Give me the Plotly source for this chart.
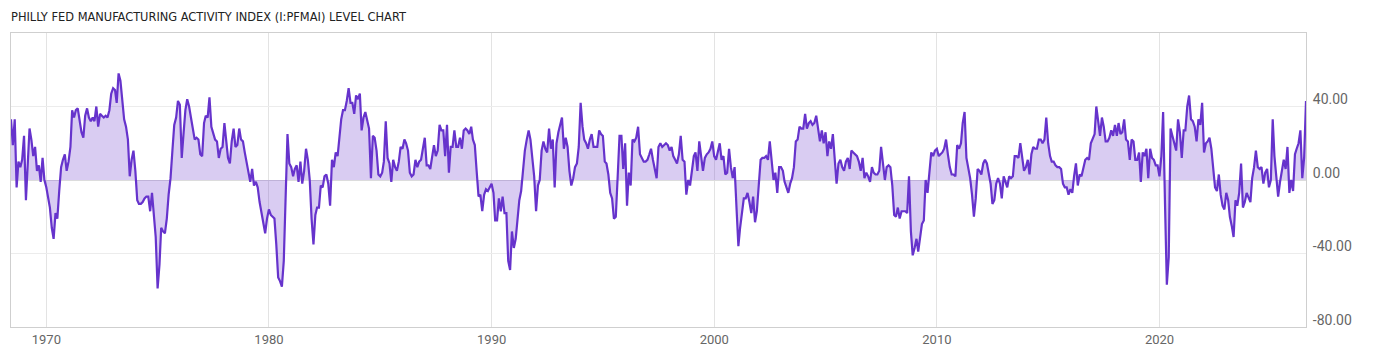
import pandas as pd
import plotly.graph_objects as go

# Monthly readings (values at month-end), May 1968 .. Jul 2026
v1968 = [33, 19, 33, -4, 10, 7, 11, 24]
v1969 = [-11, 12, 28, 22, 13, 18, 5, 8, -1, 12, 0, -4]
v1970 = [-9, -15, -26, -32, -18, -21, -6, 7, 11, 14, 5, 10]
v1971 = [18, 38, 34, 38, 39, 33, 26, 23, 35, 39, 34, 32]
v1972 = [34, 32, 40, 29, 36, 35, 34, 35, 34, 38, 47, 50]
v1973 = [49, 42, 58, 54, 42, 33, 29, 22, 2, 11, 16, 5]
v1974 = [-11, -13, -13, -12, -10, -9, -9, -17, -7, -22, -31, -59]
v1975 = [-46, -26, -28, -29, -21, -8, 1, 16, 30, 34, 43, 41]
v1976 = [12, 25, 38, 44, 40, 34, 29, 22, 23, 22, 14, 13]
v1977 = [31, 35, 34, 45, 29, 26, 22, 21, 12, 17, 18, 31]
v1978 = [21, 12, 9, 21, 28, 18, 19, 28, 22, 21, 15, 9]
v1979 = [3, -1, 6, -3, -1, -4, -12, -18, -24, -29, -21, -16]
v1980 = [-19, -20, -21, -35, -53, -55, -58, -44, -4, 25, 9, 7]
v1981 = [2, 6, 8, -1, 10, -2, 5, 17, 11, 0, -21, -35]
v1982 = [-19, -15, -15, -3, -4, 2, 3, -2, -14, 11, 7, 15]
v1983 = [13, 23, 33, 38, 38, 43, 50, 42, 42, 36, 46, 44]
v1984 = [47, 27, 34, 37, 33, 28, 1, 24, 23, 16, 3, 2]
v1985 = [4, 10, 32, 12, 9, -1, 11, 7, 5, 10, 18, 17]
v1986 = [22, 20, 16, 4, 2, 3, 11, 7, 10, 11, 17, 23]
v1987 = [8, 8, 6, 14, 19, 13, 16, 30, 27, 27, 13, 30]
v1988 = [4, 18, 18, 27, 18, 18, 23, 17, 27, 28, 27, 25]
v1989 = [29, 22, 19, 5, -9, -8, -17, -8, -5, -6, -4, -2]
v1990 = [-7, -22, -22, -10, -17, -9, -18, -18, -44, -49, -28, -37]
v1991 = [-32, -21, -11, -6, 7, 16, 22, 27, 22, 11, 2, -17]
v1992 = [-3, 0, 16, 21, 17, 15, 28, 17, 22, -4, 20, 26]
v1993 = [31, 34, 17, 23, 18, 5, -3, 1, 7, 9, 18, 42]
v1994 = [29, 22, 20, 17, 22, 25, 18, 18, 18, 27, 25, 24]
v1995 = [10, 9, 3, -7, -10, -21, -20, 2, 24, 24, 6, 20]
v1996 = [-14, 4, -3, 22, 21, 23, 29, 14, 12, 10, 10, 11]
v1997 = [14, 17, 11, 5, 1, 18, 20, 18, 19, 20, 19, 16]
v1998 = [18, 13, 11, 9, 14, 24, 11, 10, -8, 0, -3, 5]
v1999 = [13, 15, 5, 21, 13, 5, 12, 14, 15, 17, 21, 13]
v2000 = [11, 15, 20, 11, 13, 3, 4, 17, 7, 1, 7, -15]
v2001 = [-36, -26, -18, -10, -10, -7, -12, -18, -9, -23, -17, -4]
v2002 = [11, 12, 12, 13, 11, 21, 10, 0, 4, -7, 7, 7]
v2003 = [5, -1, -4, -7, -2, 1, 7, 21, 22, 29, 28, 28]
v2004 = [36, 28, 31, 32, 30, 31, 35, 29, 21, 27, 20, 26]
v2005 = [13, 21, 17, 25, 10, -2, 9, 11, 7, 5, 10, 12]
v2006 = [6, 16, 15, 14, 13, 10, 5, 12, 1, 4, 2, -1]
v2007 = [7, 4, 3, 3, 5, 18, 7, 0, 7, 8, 7, -3]
v2008 = [-19, -20, -15, -21, -17, -17, -17, -18, 2, -28, -41, -37]
v2009 = [-32, -39, -32, -24, -22, 0, -7, 3, 15, 13, 16, 17]
v2010 = [13, 14, 15, 17, 22, 14, 7, 3, 3, 2, 19, 17]
v2011 = [20, 31, 37, 12, 7, 1, -8, -20, -10, 6, 5, 3]
v2012 = [9, 11, 9, 4, -2, -13, -11, -2, 1, -2, -10, 2]
v2013 = [-2, -4, 2, 1, 2, 13, 13, 12, 20, 12, 5, 7]
v2014 = [11, 3, 14, 18, 17, 17, 22, 22, 20, 22, 34, 20]
v2015 = [13, 10, 10, 8, 7, 7, 6, -2, -4, -4, -8, -5]
v2016 = [-7, 2, 9, -3, 3, 2, 6, 11, 12, 11, 20, 23]
v2017 = [25, 40, 33, 24, 34, 29, 21, 21, 23, 27, 24, 30]
v2018 = [24, 31, 25, 26, 33, 22, 21, 11, 22, 21, 11, 11]
v2019 = [15, -1, 15, 13, 17, 1, 17, 12, 11, 8, 8, 2]
v2020 = [13, 37, -13, -57, -42, 28, 24, 19, 16, 33, 26, 12]
v2021 = [27, 27, 40, 46, 33, 32, 29, 21, 33, 30, 42, 15]
v2022 = [20, 21, 23, 17, 5, -4, -6, 3, -8, -14, -16, -7]
v2023 = [-11, -20, -25, -31, -11, -14, -7, 9, -15, -12, -7, -10]
v2024 = [-12, 1, 7, 16, 7, 6, 7, -2, 4, 6, -4, 0]
v2025 = [33, 13, 2, -9, -1, 4, 11, 6, 18, -7, 0, -6]
v2026 = [14, 17, 20, 27, 1, 12, 43]

year_ticks = [1970, 1980, 1990, 2000, 2010, 2020]
y_ticks = [-80, -40, 0, 40]

blocks = [v1968, v1969, v1970, v1971, v1972, v1973, v1974, v1975, v1976, v1977,
          v1978, v1979, v1980, v1981, v1982, v1983, v1984, v1985, v1986, v1987,
          v1988, v1989, v1990, v1991, v1992, v1993, v1994, v1995, v1996, v1997,
          v1998, v1999, v2000, v2001, v2002, v2003, v2004, v2005, v2006, v2007,
          v2008, v2009, v2010, v2011, v2012, v2013, v2014, v2015, v2016, v2017,
          v2018, v2019, v2020, v2021, v2022, v2023, v2024, v2025, v2026]
values = [v for b in blocks for v in b]
dates = pd.date_range("1968-05-31", periods=len(values), freq="ME")

LINE = "#6633cc"
FILL = "rgba(102,51,204,0.25)"

fig = go.Figure()
fig.add_trace(go.Scatter(
    x=dates, y=values, mode="lines",
    line=dict(color=LINE, width=2.2),
    fill="tozeroy", fillcolor=FILL,
    hoverinfo="x+y", showlegend=False,
))

fig.update_layout(
    width=1400, height=357,
    margin=dict(l=11, r=94, t=33, b=30),
    paper_bgcolor="white", plot_bgcolor="white",
    font=dict(family="Roboto, Liberation Sans, sans-serif", color="#666"),
    annotations=[dict(
        text="PHILLY FED MANUFACTURING ACTIVITY INDEX (I:PFMAI) LEVEL CHART",
        xref="paper", yref="paper", x=0, y=1, xanchor="left", yanchor="bottom",
        xshift=-2, yshift=7, showarrow=False,
        font=dict(family="Liberation Sans Narrow, DejaVu Sans Condensed, Roboto", size=12.7, color="#222"),
    )],
)

fig.update_xaxes(
    type="date",
    range=[dates[0], dates[-1]],
    tickvals=[pd.Timestamp(f"{y}-01-01") for y in year_ticks],
    ticktext=[str(y) for y in year_ticks],
    showgrid=True, gridcolor="#e3e3e3", gridwidth=1,
    showline=True, linecolor="#cfcfcf", linewidth=1, mirror=True,
    ticks="", zeroline=False,
    tickfont=dict(size=13, color="#666"),
)
fig.update_yaxes(
    range=[-80, 80], side="right",
    tickvals=y_ticks, ticktext=[f"{t:.2f}" for t in y_ticks],
    showgrid=True, gridcolor="#ececec", gridwidth=1,
    zeroline=True, zerolinecolor="#dcdcdc", zerolinewidth=1,
    showline=True, linecolor="#cfcfcf", linewidth=1, mirror=True,
    ticks="", ticklabelstandoff=3, ticklabelshift=-7,
    tickfont=dict(size=14, color="#666"),
)

fig.write_html("out.html")
